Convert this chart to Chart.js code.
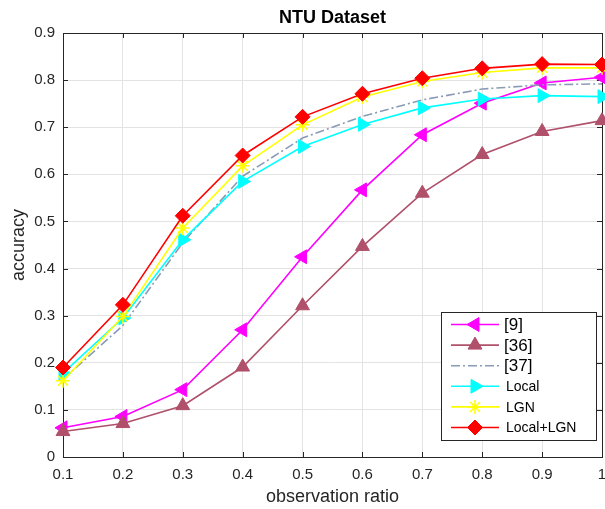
<!DOCTYPE html>
<html>
<head>
<meta charset="utf-8">
<script src="https://cdn.jsdelivr.net/npm/chart.js@4.4.0/dist/chart.umd.min.js"></script>
<style>
  html, body { margin: 0; padding: 0; background: #fff; }
  #wrap { width: 605px; height: 509px; }
</style>
</head>
<body>
<div id="wrap"><canvas id="myChart" width="605" height="509"></canvas></div>
<script>
// dados
const ratios = [0.1, 0.2, 0.3, 0.4, 0.5, 0.6, 0.7, 0.8, 0.9, 1.0];
const xTicks = [0.1, 0.2, 0.3, 0.4, 0.5, 0.6, 0.7, 0.8, 0.9, 1];
const yTicks = [0, 0.1, 0.2, 0.3, 0.4, 0.5, 0.6, 0.7, 0.8, 0.9];

const ref9 = [0.062, 0.086, 0.143, 0.270, 0.425, 0.567, 0.684, 0.751, 0.794, 0.806];
const ref36 = [0.054, 0.071, 0.109, 0.191, 0.321, 0.447, 0.560, 0.642, 0.691, 0.714];
const ref37 = [0.165, 0.279, 0.455, 0.596, 0.677, 0.723, 0.758, 0.781, 0.790, 0.792];
const local = [0.178, 0.295, 0.461, 0.585, 0.659, 0.706, 0.741, 0.760, 0.767, 0.765];
const lgn = [0.162, 0.298, 0.486, 0.618, 0.705, 0.764, 0.797, 0.816, 0.826, 0.826];
const localLgn = [0.190, 0.323, 0.512, 0.640, 0.722, 0.771, 0.804, 0.825, 0.834, 0.833];

const labels = ['[9]', '[36]', '[37]', 'Local', 'LGN', 'Local+LGN'];

const FONT = "'Liberation Sans', Arial, sans-serif";

function serie(label, values, cor, extra) {
  return Object.assign({
    label: label,
    data: values.map((v, i) => ({ x: ratios[i], y: v })),
    borderColor: cor,
    backgroundColor: cor,
    pointBackgroundColor: cor,
    pointBorderColor: cor,
    borderWidth: 1.6,
    pointRadius: 7,
    pointBorderWidth: 1,
    tension: 0,
    clip: false,
  }, extra);
}

const datasets = [
  serie(labels[0], ref9, '#ff00ff', { pointStyle: 'triangle', rotation: -90, pointRadius: 8, order: 6 }),
  serie(labels[1], ref36, '#b0506a', { pointStyle: 'triangle', pointRadius: 8, order: 5 }),
  serie(labels[2], ref37, '#8a9bb5', { pointRadius: 0, borderDash: [9, 3, 2, 3], order: 4 }),
  serie(labels[3], local, '#00ffff', { pointStyle: 'triangle', rotation: 90, pointRadius: 8, order: 3 }),
  serie(labels[4], lgn, '#ffff00', { pointStyle: 'star', pointRadius: 7, pointBorderWidth: 1.5, order: 2 }),
  serie(labels[5], localLgn, '#ff0000', { pointStyle: 'rectRot', pointRadius: 7.5, order: 1 }),
];

// caixa, ticks para dentro, título e legenda
const moldura = {
  id: 'moldura',
  afterLayout(chart) {
    // o eixo x vai até quase a borda, como no original
    const a = chart.chartArea;
    const sx = chart.scales.x;
    a.right = 602;
    a.width = a.right - a.left;
    sx.right = 602;
    sx.width = sx.right - sx.left;
    sx.configure();
  },
  beforeDatasetsDraw(chart) {
    const { ctx, chartArea: a, scales } = chart;
    ctx.save();
    ctx.strokeStyle = '#262626';
    ctx.lineWidth = 1;
    ctx.beginPath();
    xTicks.forEach((v) => {
      const x = Math.round(scales.x.getPixelForValue(v)) + 0.5;
      ctx.moveTo(x, a.bottom); ctx.lineTo(x, a.bottom - 5);
      ctx.moveTo(x, a.top); ctx.lineTo(x, a.top + 5);
    });
    yTicks.forEach((v) => {
      const y = Math.round(scales.y.getPixelForValue(v)) + 0.5;
      ctx.moveTo(a.left, y); ctx.lineTo(a.left + 5, y);
      ctx.moveTo(a.right, y); ctx.lineTo(a.right - 5, y);
    });
    ctx.stroke();
    ctx.strokeRect(Math.round(a.left) + 0.5, Math.round(a.top) + 0.5,
      Math.round(a.right - a.left), Math.round(a.bottom - a.top));
    ctx.restore();
  },
  afterDraw(chart) {
    const { ctx, chartArea: a } = chart;
    ctx.save();
    // título
    ctx.fillStyle = '#000';
    ctx.font = 'bold 18px ' + FONT;
    ctx.textAlign = 'center';
    ctx.textBaseline = 'middle';
    ctx.fillText('NTU Dataset', (a.left + a.right) / 2, 18.5);

    // legenda
    const bx = 441, by = 312, bw = 155, bh = 128;
    ctx.fillStyle = '#fff';
    ctx.fillRect(bx, by, bw, bh);
    ctx.strokeStyle = '#262626';
    ctx.lineWidth = 1;
    ctx.strokeRect(bx + 0.5, by + 0.5, bw, bh);
    ctx.textAlign = 'left';
    chart.data.datasets.forEach((ds, i) => {
      const y = 324.5 + i * 20.6;
      ctx.strokeStyle = ds.borderColor;
      ctx.lineWidth = ds.borderWidth;
      ctx.setLineDash(ds.borderDash || []);
      ctx.beginPath();
      ctx.moveTo(451, y); ctx.lineTo(499, y);
      ctx.stroke();
      ctx.setLineDash([]);
      if (ds.pointRadius > 0) {
        ctx.fillStyle = ds.pointBackgroundColor;
        ctx.strokeStyle = ds.pointBorderColor;
        ctx.lineWidth = ds.pointBorderWidth;
        Chart.helpers.drawPoint(ctx, {
          pointStyle: ds.pointStyle,
          radius: ds.pointRadius,
          rotation: ds.rotation || 0,
          borderWidth: ds.pointBorderWidth,
        }, 475, y);
      }
      ctx.fillStyle = '#000';
      // rótulos entre colchetes aparecem maiores no original
      const grande = ds.label.startsWith('[');
      ctx.font = (grande ? '17px ' : '14px ') + FONT;
      ctx.fillText(ds.label, grande ? 504 : 506, y + 1);
    });
    ctx.restore();
  },
};

const ctx = document.getElementById('myChart').getContext('2d');
const chart = new Chart(ctx, {
  type: 'line',
  data: { datasets: datasets },
  options: {
    responsive: false,
    animation: false,
    layout: { padding: { top: 33, right: 3, left: 0, bottom: 0 } },
    plugins: { legend: { display: false }, tooltip: { enabled: false }, title: { display: false } },
    scales: {
      x: {
        type: 'linear',
        min: 0.1,
        max: 1,
        afterBuildTicks: (s) => { s.ticks = xTicks.map((v) => ({ value: v })); },
        afterFit: (s) => { s.height = 52; },
        grid: { color: '#e3e3e3', lineWidth: 1, drawTicks: false },
        border: { display: false },
        ticks: {
          padding: 9,
          color: '#262626',
          font: { family: FONT, size: 15 },
          maxRotation: 0,
          callback: (v) => String(Math.round(v * 10) / 10),
        },
        title: {
          display: true,
          text: 'observation ratio',
          color: '#262626',
          font: { family: FONT, size: 18 },
          padding: { top: 0, bottom: 1 },
        },
      },
      y: {
        min: 0,
        max: 0.9,
        afterBuildTicks: (s) => { s.ticks = yTicks.map((v) => ({ value: v })); },
        afterFit: (s) => { s.width = 63; },
        grid: { color: '#e3e3e3', lineWidth: 1, drawTicks: false },
        border: { display: false },
        ticks: {
          padding: 8,
          color: '#262626',
          font: { family: FONT, size: 15 },
          callback: (v) => String(Math.round(v * 10) / 10),
        },
        title: {
          display: true,
          text: 'accuracy',
          color: '#262626',
          font: { family: FONT, size: 18 },
          padding: { top: 8, bottom: 0 },
        },
      },
    },
  },
  plugins: [moldura],
});
</script>
</body>
</html>
